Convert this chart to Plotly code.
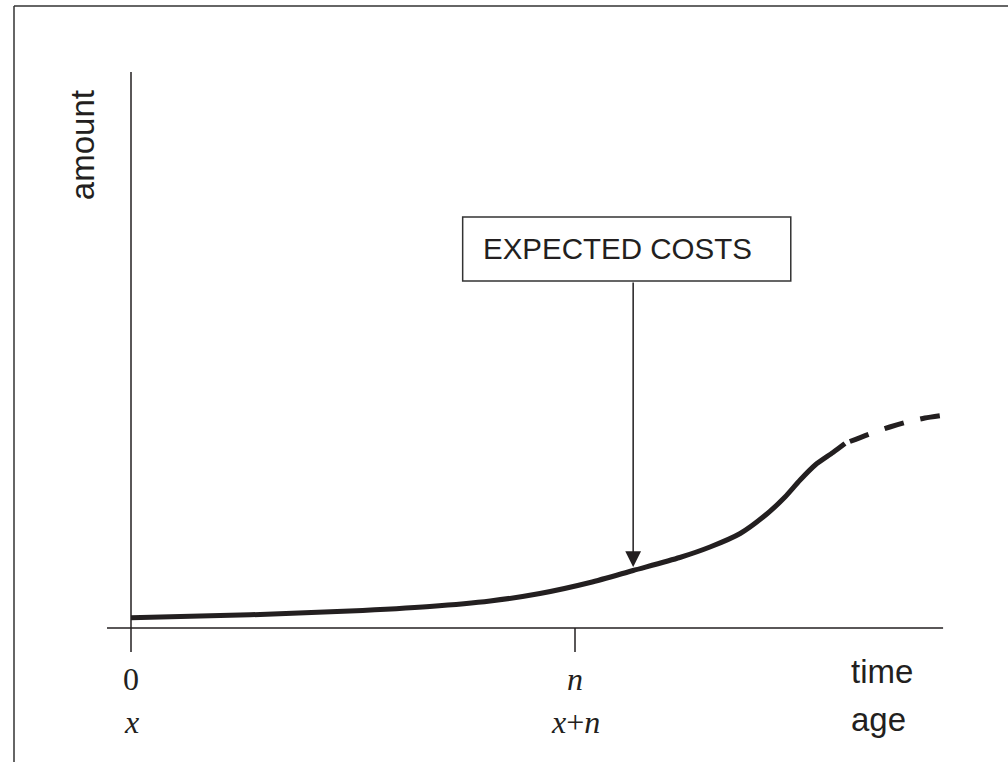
import plotly.graph_objects as go

# ---- data (time in units where n = 10; amount in arbitrary units) ----
time_solid = [0, 2.68, 4.93, 6.73, 8.09, 9.21, 10.34, 11.31, 12.36, 13.04,
              13.72, 14.32, 14.73, 15.07, 15.41, 15.81, 16.08]
amount_solid = [1.02, 1.32, 1.70, 2.15, 2.70, 3.45, 4.55, 5.75, 7.05, 8.10,
                9.45, 11.40, 13.10, 14.80, 16.30, 17.55, 18.45]
time_dashed = [16.19, 16.69, 17.09, 17.48, 17.88, 18.33]
amount_dashed = [18.65, 19.5, 20.1, 20.6, 21.0, 21.3]

tick_positions = [0, 10]
time_labels = ["0", "<i>n</i>"]
age_labels = ["<i>x</i>", "<i>x</i>+<i>n</i>"]
axis_titles = {"x_time": "time", "x_age": "age", "y": "amount"}
callout_text = "EXPECTED COSTS"
callout_time = 11.31
callout_amount = 6.1

INK = "#231f20"
SANS = "Liberation Sans, Arial, sans-serif"
SERIF = "Liberation Serif, Times New Roman, serif"

FIG_W, FIG_H = 1008, 780

fig = go.Figure()
fig.add_trace(go.Scatter(x=time_solid, y=amount_solid, mode="lines",
                         line=dict(color=INK, width=5, shape="spline", smoothing=0.7),
                         hoverinfo="skip", showlegend=False))
fig.add_trace(go.Scatter(x=time_dashed, y=amount_dashed, mode="lines",
                         line=dict(color=INK, width=5, shape="spline", smoothing=0.7,
                                   dash="20px,17px"),
                         hoverinfo="skip", showlegend=False))

shapes = []
# frame (left and top edges visible)
shapes.append(dict(type="line", xref="paper", yref="paper", x0=14/FIG_W, x1=14/FIG_W,
                   y0=0, y1=1-6/FIG_H, line=dict(color="#333333", width=1.5)))
shapes.append(dict(type="line", xref="paper", yref="paper", x0=14/FIG_W, x1=1,
                   y0=1-6/FIG_H, y1=1-6/FIG_H, line=dict(color="#333333", width=1.5)))
# axes
shapes.append(dict(type="line", xref="x", yref="y", x0=-0.54, x1=18.29, y0=0, y1=0,
                   line=dict(color=INK, width=1.5)))
shapes.append(dict(type="line", xref="x", yref="y", x0=0, x1=0, y0=-2.4, y1=55.6,
                   line=dict(color=INK, width=1.5)))
for tp in tick_positions[1:]:
    shapes.append(dict(type="line", xref="x", yref="y", x0=tp, x1=tp, y0=0, y1=-2.4,
                       line=dict(color=INK, width=1.5)))
# callout box
shapes.append(dict(type="rect", xref="x", yref="y", x0=7.47, x1=14.86, y0=34.7, y1=41.1,
                   line=dict(color="#333333", width=1.5), fillcolor="white"))

annotations = []
for tp, tl, al in zip(tick_positions, time_labels, age_labels):
    annotations.append(dict(x=tp, y=-5.1, xref="x", yref="y", text=tl, showarrow=False,
                            xanchor="center", yanchor="middle",
                            font=dict(family=SERIF, size=32, color=INK)))
    annotations.append(dict(x=tp, y=-9.4, xref="x", yref="y", text=al, showarrow=False,
                            xanchor="center", yanchor="middle",
                            font=dict(family=SERIF, size=32, color=INK)))
annotations.append(dict(x=16.17, y=-4.3, xref="x", yref="y", text=axis_titles["x_time"],
                        showarrow=False, xanchor="left", yanchor="middle",
                        font=dict(family=SANS, size=33, color=INK)))
annotations.append(dict(x=16.17, y=-9.1, xref="x", yref="y", text=axis_titles["x_age"],
                        showarrow=False, xanchor="left", yanchor="middle",
                        font=dict(family=SANS, size=33, color=INK)))
annotations.append(dict(x=-1.1, y=48.3, xref="x", yref="y", text=axis_titles["y"],
                        showarrow=False, textangle=-90, xanchor="center", yanchor="middle",
                        font=dict(family=SANS, size=33, color=INK)))
annotations.append(dict(x=7.89, y=38.0, xref="x", yref="y", text=callout_text,
                        showarrow=False, xanchor="left", yanchor="middle",
                        font=dict(family=SANS, size=29.5, color=INK)))
annotations.append(dict(x=callout_time, y=callout_amount, xref="x", yref="y", text="",
                        showarrow=True, ax=callout_time, ay=34.7, axref="x", ayref="y",
                        arrowhead=2, arrowsize=2.1, arrowwidth=1.5, arrowcolor=INK,
                        standoff=0, startstandoff=0))

fig.update_layout(
    width=FIG_W, height=FIG_H, autosize=False,
    margin=dict(l=0, r=0, t=0, b=0),
    paper_bgcolor="white", plot_bgcolor="white",
    xaxis=dict(range=[-131/44.4, (FIG_W-131)/44.4], visible=False, fixedrange=True),
    yaxis=dict(range=[(628-FIG_H)/10, 62.8], visible=False, fixedrange=True),
    shapes=shapes, annotations=annotations, showlegend=False,
)

fig.write_html("out.html", config={"displayModeBar": False},
               post_script="document.body.style.margin='0';document.body.style.overflow='hidden';")
